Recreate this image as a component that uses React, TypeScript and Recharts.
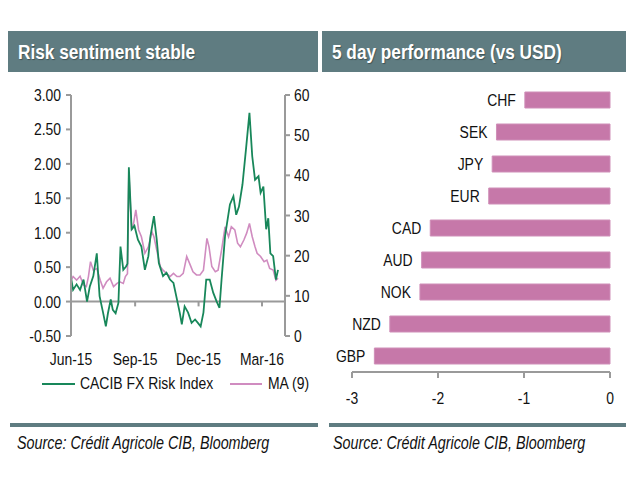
import React from 'react';
import { LineChart, Line, XAxis, YAxis, ReferenceLine, BarChart, Bar, LabelList } from 'recharts';

const FONT = "'Liberation Sans', Arial, sans-serif";
const SX = 0.82; // the reference uses a narrow face; squeeze Liberation Sans to match
const HEADER = '#5f7c81';
const GREEN = '#18875a';
const PINK_LINE = '#d08cc0';
const PINK_BAR = '#c678a9';
const AXIS = '#9a9a9a';
const TEXT = '#111111';

// days since 1 Jun 2015
const riskDays = [0, 3, 8, 13, 18, 23, 27, 32, 37, 41, 46, 50, 53, 57, 60, 64, 68, 71, 75, 79, 81, 83, 87, 91, 96, 101, 106, 111, 114, 119, 123, 126, 132, 137, 142, 147, 151, 156, 159, 163, 168, 173, 178, 182, 186, 190, 194, 199, 204, 209, 213, 216, 221, 228, 233, 237, 241, 246, 251, 256, 260, 264, 269, 272, 276, 280, 283, 286, 290, 294, 297];
const riskValues = [0.35, 0.17, 0.25, 0.17, 0.32, 0.0, 0.22, 0.37, 0.7, 0.08, -0.16, -0.36, -0.17, 0.03, -0.12, -0.17, -0.02, 0.8, 0.46, 0.51, 0.55, 1.95, 1.05, 1.1, 0.9, 0.8, 0.46, 0.66, 0.95, 1.24, 0.9, 0.56, 0.37, 0.42, 0.32, 0.27, 0.08, -0.16, -0.33, -0.07, -0.16, -0.31, -0.26, -0.31, -0.36, -0.16, 0.32, 0.32, 0.13, 0.0, -0.09, 0.32, 0.95, 1.41, 1.53, 1.26, 1.38, 1.7, 2.21, 2.74, 2.11, 1.77, 1.82, 1.58, 1.67, 1.05, 1.21, 0.7, 0.66, 0.32, 0.46];

const maDays = [0, 3, 8, 13, 18, 22, 25, 28, 32, 37, 42, 46, 51, 56, 61, 66, 70, 75, 78, 81, 83, 87, 89, 93, 97, 101, 106, 111, 116, 119, 123, 128, 132, 137, 142, 147, 152, 156, 161, 166, 171, 175, 180, 185, 190, 195, 198, 202, 207, 211, 216, 221, 226, 230, 235, 239, 243, 248, 252, 256, 260, 264, 267, 272, 277, 281, 285, 290, 294, 297];
const maValues = [13.9, 14.8, 13.9, 14.9, 12.7, 12.3, 14.8, 18.5, 16.4, 16.8, 13.9, 11.9, 13.5, 14.4, 12.3, 13.1, 13.5, 13.1, 14.8, 15.5, 40.5, 26.4, 27.2, 31.4, 26.4, 24.7, 20.6, 22.2, 26.0, 24.7, 21.4, 17.3, 16.4, 15.6, 14.8, 15.6, 14.8, 14.8, 15.6, 19.8, 17.7, 16.0, 15.2, 15.2, 16.4, 24.3, 22.2, 17.3, 16.0, 16.4, 21.4, 27.2, 24.7, 27.2, 26.4, 23.1, 22.2, 23.9, 25.6, 28.0, 24.7, 22.2, 20.6, 19.8, 18.5, 18.9, 16.8, 16.4, 13.9, 14.4];

const monthTicks = [0, 92, 183, 274];
const monthLabels = ['Jun-15', 'Sep-15', 'Dec-15', 'Mar-16'];
const leftTicks = [-0.5, 0, 0.5, 1, 1.5, 2, 2.5, 3];
const rightTicks = [0, 10, 20, 30, 40, 50, 60];

const currencies = ['CHF', 'SEK', 'JPY', 'EUR', 'CAD', 'AUD', 'NOK', 'NZD', 'GBP'];
const perfValues = [-0.99, -1.32, -1.37, -1.41, -2.09, -2.19, -2.21, -2.56, -2.74];
const perfTicks = [-3, -2, -1, 0];

const riskData = riskDays.map((d, i) => ({ day: d, v: riskValues[i] }));
const maData = maDays.map((d, i) => ({ day: d, v: maValues[i] }));
const perfData = currencies.map((c, i) => ({ ccy: c, v: perfValues[i] }));

function narrowTick(dy: string, fmt: (v: any) => string) {
  return (props: any) => {
    const { x, y, textAnchor, payload } = props;
    return (
      <text
        transform={`translate(${x},${y}) scale(${SX},1)`}
        textAnchor={textAnchor}
        dy={dy}
        fontSize={17}
        fontFamily={FONT}
        fill={TEXT}
      >
        {fmt(payload.value)}
      </text>
    );
  };
}

const monthTick = narrowTick('0.71em', (d) => monthLabels[monthTicks.indexOf(d)]);
const leftTick = narrowTick('0.355em', (v) => Number(v).toFixed(2));
const rightTick = narrowTick('0.355em', (v) => String(v));
const perfTick = narrowTick('0.71em', (v) => String(v));

function CcyLabel(props: any) {
  const x = Number(props.x);
  const w = Number(props.width);
  const y = Number(props.y);
  const h = Number(props.height);
  const left = Math.min(x, x + w);
  return (
    <text
      transform={`translate(${left - 9},${y + h / 2}) scale(${SX},1)`}
      dy="0.36em"
      textAnchor="end"
      fontSize={17}
      fontFamily={FONT}
      fill={TEXT}
    >
      {props.value}
    </text>
  );
}

function Narrow({ children, style }: { children: React.ReactNode; style?: React.CSSProperties }) {
  return (
    <span
      style={{
        display: 'inline-block',
        whiteSpace: 'nowrap',
        transform: `scaleX(${SX})`,
        transformOrigin: 'left center',
        ...style,
      }}
    >
      {children}
    </span>
  );
}

function Header({ left, width, title }: { left: number; width: number; title: string }) {
  return (
    <div
      style={{
        position: 'absolute',
        left,
        top: 31,
        width,
        height: 41,
        background: HEADER,
        color: '#fff',
        fontFamily: FONT,
        fontWeight: 'bold',
        fontSize: 21,
        lineHeight: '41px',
        paddingLeft: 10,
        boxSizing: 'border-box',
        textShadow: '1px 1px 1px rgba(0,0,0,0.35)',
        overflow: 'hidden',
        whiteSpace: 'nowrap',
      }}
    >
      <Narrow>{title}</Narrow>
    </div>
  );
}

function Source({ left, lineLeft, lineWidth }: { left: number; lineLeft: number; lineWidth: number }) {
  return (
    <>
      <div style={{ position: 'absolute', left: lineLeft, top: 423, width: lineWidth, height: 4, background: HEADER }} />
      <div
        style={{
          position: 'absolute',
          left,
          top: 433,
          fontFamily: FONT,
          fontStyle: 'italic',
          fontSize: 17.5,
          lineHeight: '20px',
          color: TEXT,
        }}
      >
        <Narrow>Source: Crédit Agricole CIB, Bloomberg</Narrow>
      </div>
    </>
  );
}

const legendText: React.CSSProperties = {
  position: 'absolute',
  top: 374,
  fontFamily: FONT,
  fontSize: 17,
  lineHeight: '20px',
  color: TEXT,
};

export default function App() {
  return (
    <div style={{ position: 'absolute', left: 0, top: 0, width: 630, height: 484, background: '#fff', overflow: 'hidden' }}>
      <Header left={8} width={310} title="Risk sentiment stable" />
      <Header left={322} width={304} title="5 day performance (vs USD)" />

      <div style={{ position: 'absolute', left: 0, top: 80 }}>
        <LineChart width={330} height={300} margin={{ top: 15, right: 0, bottom: 0, left: 0 }}>
          <XAxis
            type="number"
            dataKey="day"
            domain={[0, 307]}
            ticks={monthTicks}
            interval={0}
            axisLine={false}
            tickLine={false}
            tickSize={6}
            tickMargin={11}
            height={44}
            tick={monthTick}
          />
          <YAxis
            yAxisId="l"
            domain={[-0.5, 3]}
            ticks={leftTicks}
            interval={0}
            width={71}
            axisLine={{ stroke: AXIS, strokeWidth: 2 }}
            tickLine={{ stroke: AXIS, strokeWidth: 2 }}
            tickSize={5}
            tickMargin={5}
            tick={leftTick}
          />
          <YAxis
            yAxisId="r"
            orientation="right"
            domain={[0, 60]}
            ticks={rightTicks}
            interval={0}
            width={45}
            axisLine={{ stroke: AXIS, strokeWidth: 2 }}
            tickLine={{ stroke: AXIS, strokeWidth: 2 }}
            tickSize={5}
            tickMargin={4}
            tick={rightTick}
          />
          <ReferenceLine yAxisId="l" y={0} stroke={AXIS} strokeWidth={2} />
          {monthTicks.slice(1).map((d) => (
            <ReferenceLine
              key={d}
              yAxisId="l"
              segment={[{ x: d, y: 0 }, { x: d, y: -0.07 }]}
              stroke={AXIS}
              strokeWidth={2}
            />
          ))}
          <Line data={maData} dataKey="v" yAxisId="r" stroke={PINK_LINE} strokeWidth={1.6} dot={false} isAnimationActive={false} />
          <Line data={riskData} dataKey="v" yAxisId="l" stroke={GREEN} strokeWidth={1.8} dot={false} isAnimationActive={false} />
        </LineChart>
      </div>

      {/* legend */}
      <div style={{ position: 'absolute', left: 42, top: 383, width: 33, height: 2, background: GREEN }} />
      <div style={{ ...legendText, left: 80 }}>
        <Narrow>CACIB FX Risk Index</Narrow>
      </div>
      <div style={{ position: 'absolute', left: 230, top: 383, width: 32, height: 2, background: PINK_LINE }} />
      <div style={{ ...legendText, left: 268 }}>
        <Narrow>MA (9)</Narrow>
      </div>

      <div style={{ position: 'absolute', left: 320, top: 80 }}>
        <BarChart layout="vertical" width={310} height={330} data={perfData} margin={{ top: 4, right: 20, bottom: 0, left: 32 }} barCategoryGap={8}>
          <XAxis
            type="number"
            domain={[-3, 0]}
            ticks={perfTicks}
            interval={0}
            axisLine={{ stroke: AXIS, strokeWidth: 2 }}
            tickLine={{ stroke: AXIS, strokeWidth: 2 }}
            tickSize={6}
            tickMargin={14}
            height={38}
            tick={perfTick}
          />
          <YAxis type="category" dataKey="ccy" hide />
          <Bar dataKey="v" fill={PINK_BAR} stroke="#cf8fb8" strokeWidth={1} isAnimationActive={false}>
            <LabelList dataKey="ccy" content={CcyLabel} />
          </Bar>
        </BarChart>
      </div>

      <Source left={17} lineLeft={10} lineWidth={308} />
      <Source left={333} lineLeft={329} lineWidth={297} />
    </div>
  );
}
